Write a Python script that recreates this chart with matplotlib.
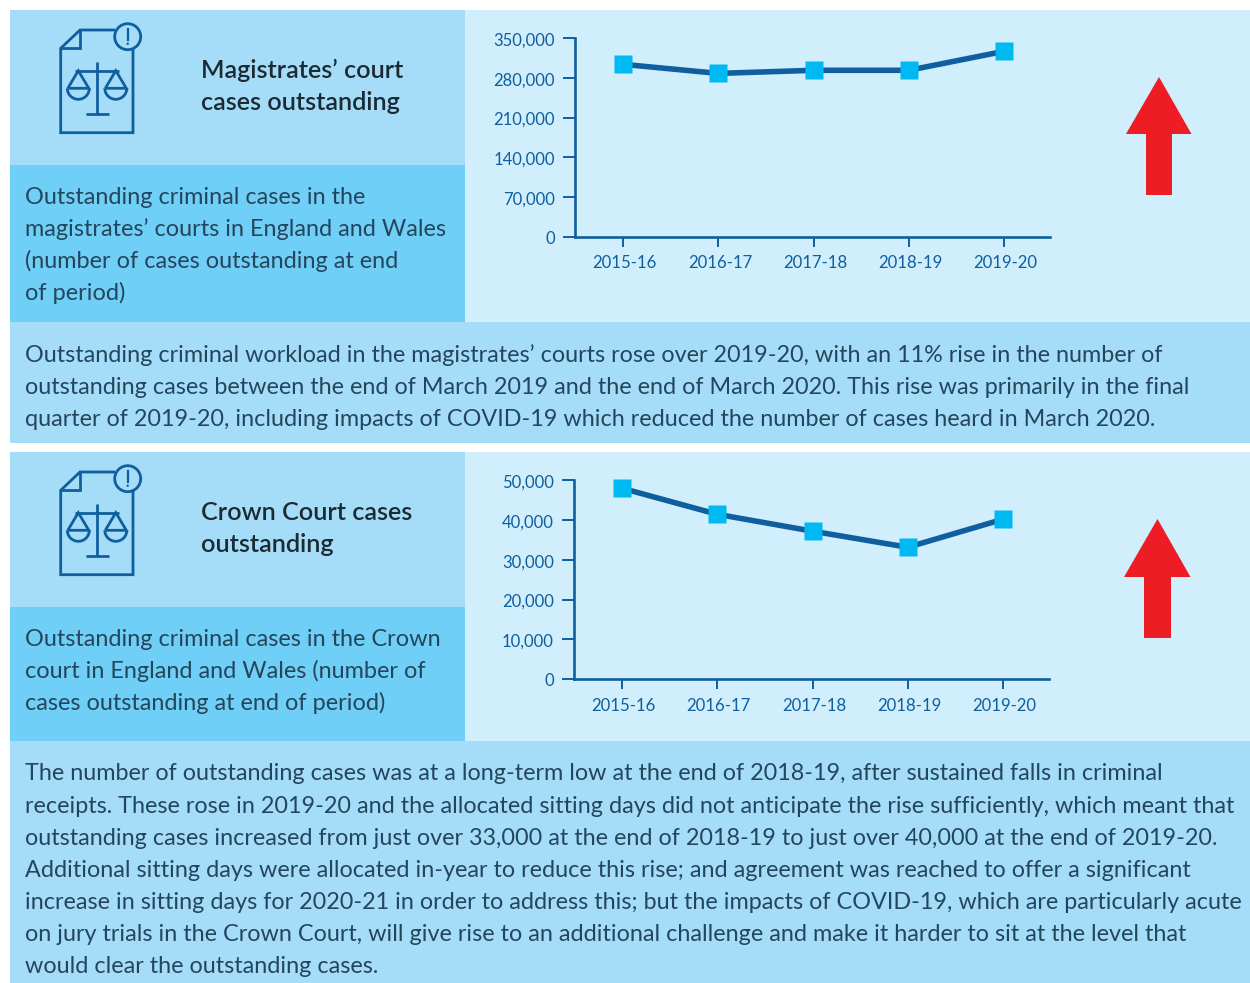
import numpy as np
import matplotlib
matplotlib.use('Agg')
import matplotlib.pyplot as plt
from matplotlib.patches import Circle, Polygon, Rectangle, Arc
from matplotlib.transforms import ScaledTranslation

W, H = 1250, 983

years = ['2015-16', '2016-17', '2017-18', '2018-19', '2019-20']
mags_cases = [304000, 288000, 293500, 293500, 327000]
mags_ticks = [0, 70000, 140000, 210000, 280000, 350000]
crown_cases = [48000, 41450, 37200, 33150, 40200]
crown_ticks = [0, 10000, 20000, 30000, 40000, 50000]

mags_title = ['Magistrates’ court', 'cases outstanding']
mags_desc = ['Outstanding criminal cases in the',
             'magistrates’ courts in England and Wales',
             '(number of cases outstanding at end',
             'of period)']
mags_note = ['Outstanding criminal workload in the magistrates’ courts rose over 2019-20, with an 11% rise in the number of',
             'outstanding cases between the end of March 2019 and the end of March 2020. This rise was primarily in the final',
             'quarter of 2019-20, including impacts of COVID-19 which reduced the number of cases heard in March 2020.']
crown_title = ['Crown Court cases', 'outstanding']
crown_desc = ['Outstanding criminal cases in the Crown',
              'court in England and Wales (number of',
              'cases outstanding at end of period)']
crown_note = ['The number of outstanding cases was at a long-term low at the end of 2018-19, after sustained falls in criminal',
              'receipts. These rose in 2019-20 and the allocated sitting days did not anticipate the rise sufficiently, which meant that',
              'outstanding cases increased from just over 33,000 at the end of 2018-19 to just over 40,000 at the end of 2019-20.',
              'Additional sitting days were allocated in-year to reduce this rise; and agreement was reached to offer a significant',
              'increase in sitting days for 2020-21 in order to address this; but the impacts of COVID-19, which are particularly acute',
              'on jury trials in the Crown Court, will give rise to an additional challenge and make it harder to sit at the level that',
              'would clear the outstanding cases.']

LIGHT = '#a5ddf9'
MID = '#70cff6'
PALE = '#d0eefb'
NAVY = '#0f5f9f'
CYAN = '#00b9f2'
RED = '#ee1c25'
INK = '#24465c'

plt.rcParams['font.family'] = ['Lato', 'DejaVu Sans']

fig = plt.figure(figsize=(W / 100, H / 100), dpi=100, facecolor='white')
# page layer, one unit is one pixel
bg = fig.add_axes([0, 0, 1, 1])
bg.set_xlim(0, W)
bg.set_ylim(H, 0)
bg.axis('off')


def box(x0, y0, x1, y1, color):
    bg.add_patch(Rectangle((x0, y0), x1 - x0, y1 - y0, fc=color, ec='none'))


def draw_icon(dx, dy):
    lw = 2.0
    kw = dict(color=NAVY, lw=lw, solid_capstyle='butt', solid_joinstyle='miter')
    # page outline with folded corner
    bg.plot(np.array([115, 80, 60.7, 60.7, 133, 133]) + dx,
            np.array([30, 30, 48.3, 132.7, 132.7, 49]) + dy, **kw)
    bg.plot(np.array([80, 80, 60.7]) + dx, np.array([30, 48.3, 48.3]) + dy, **kw)
    bg.add_patch(Circle((127.7 + dx, 36.7 + dy), 13, fc='none', ec=NAVY, lw=lw))
    bg.plot([127.7 + dx] * 2, [29 + dy, 39.5 + dy], color=NAVY, lw=1.6)
    bg.add_patch(Circle((127.7 + dx, 43.7 + dy), 1.2, fc=NAVY, ec='none'))
    # scales
    bg.plot([97.3 + dx] * 2, [62.3 + dy, 114.3 + dy], **kw)
    bg.plot([86 + dx, 109.3 + dx], [114.3 + dy] * 2, **kw)
    bg.plot([75 + dx, 119 + dx], [70.7 + dy] * 2, **kw)
    for cx in (78.3, 115.8):
        bg.plot(np.array([cx - 10.5, cx, cx + 10.5, cx - 10.5]) + dx,
                np.array([88.3, 70.7, 88.3, 88.3]) + dy, **kw)
        bg.add_patch(Arc((cx + dx, 88.3 + dy), 22, 22, theta1=0, theta2=180,
                         ec=NAVY, lw=lw))


def draw_arrow(tip_x, tip_y, base_y, bottom_y, head_l, head_r, shaft_l, shaft_r):
    bg.add_patch(Polygon([(tip_x, tip_y), (head_r, base_y), (shaft_r, base_y),
                          (shaft_r, bottom_y), (shaft_l, bottom_y),
                          (shaft_l, base_y), (head_l, base_y)],
                         closed=True, fc=RED, ec='none'))


def write_lines(x, ys, lines, size, color=INK, weight='normal', shift=1.2):
    for y, line in zip(ys, lines):
        bg.text(x, y + shift, line, fontsize=size, color=color, fontweight=weight,
                ha='left', va='center')


def line_chart(x0, x1, y_top, y_bot, first_x, last_x, values, ticks):
    ax = fig.add_axes([x0 / W, 1 - y_bot / H, (x1 - x0) / W, (y_bot - y_top) / H])
    ax.patch.set_alpha(0)
    step = (last_x - first_x) / 4
    ax.set_xlim(-(first_x - x0) / step, 4 + (x1 - last_x) / step)
    ax.set_ylim(0, ticks[-1])
    ax.plot(range(len(values)), values, color=NAVY, lw=4, clip_on=False,
            solid_joinstyle='round', zorder=3)
    ax.plot(range(len(values)), values, ls='none', marker='s', ms=12.8, mfc=CYAN,
            mec='none', clip_on=False, zorder=4)
    for side in ('top', 'right'):
        ax.spines[side].set_visible(False)
    for side in ('left', 'bottom'):
        ax.spines[side].set_color(NAVY)
        ax.spines[side].set_linewidth(1.9)
    ax.set_xticks(range(len(years)))
    ax.set_xticklabels(years)
    ax.set_yticks(ticks)
    ax.set_yticklabels([format(t, ',d') for t in ticks])
    ax.tick_params(axis='x', length=7.5, width=1.4, color=NAVY, labelcolor=NAVY,
                   labelsize=12.1, pad=6)
    ax.tick_params(axis='y', length=9, width=1.4, color=NAVY, labelcolor=NAVY,
                   labelsize=12, pad=5.5)
    # nudge the labels off their ticks by a pixel or so
    for lab in ax.get_xticklabels():
        lab.set_transform(lab.get_transform() + ScaledTranslation(1.5 / 100, 0, fig.dpi_scale_trans))
    for lab in ax.get_yticklabels():
        lab.set_transform(lab.get_transform() + ScaledTranslation(0, -1 / 100, fig.dpi_scale_trans))
    return ax


# upper block
box(10, 10, 465, 165, LIGHT)
box(10, 165, 465, 322, MID)
box(465, 10, 1250, 322, PALE)
box(10, 322, 1250, 443, LIGHT)
# lower block
box(10, 452, 465, 607, LIGHT)
box(10, 607, 465, 741, MID)
box(465, 452, 1250, 741, PALE)
box(10, 741, 1250, 983, LIGHT)

draw_icon(0, 0)
draw_icon(0, 442)

write_lines(201, [69, 101], mags_title, 18.1, color='#1c2b33', weight='semibold')
write_lines(201, [511, 543], crown_title, 18.1, color='#1c2b33', weight='semibold')
write_lines(25, [196, 228, 260, 292], mags_desc, 16.9)
write_lines(25, [638, 670, 702], crown_desc, 16.9)
write_lines(25, [354, 386, 418], mags_note, 16.85)
write_lines(25, [772, 805, 837, 869, 901, 933, 965], crown_note, 16.85)

line_chart(575, 1050, 38.3, 236.5, 623.2, 1004, mags_cases, mags_ticks)
line_chart(574, 1049, 480.3, 679, 622, 1003, crown_cases, crown_ticks)

draw_arrow(1159, 77, 134, 195, 1126, 1191.5, 1146, 1172)
draw_arrow(1157.5, 519, 577, 638, 1124, 1190.5, 1144, 1171)

fig.savefig('out.png', dpi=100)
